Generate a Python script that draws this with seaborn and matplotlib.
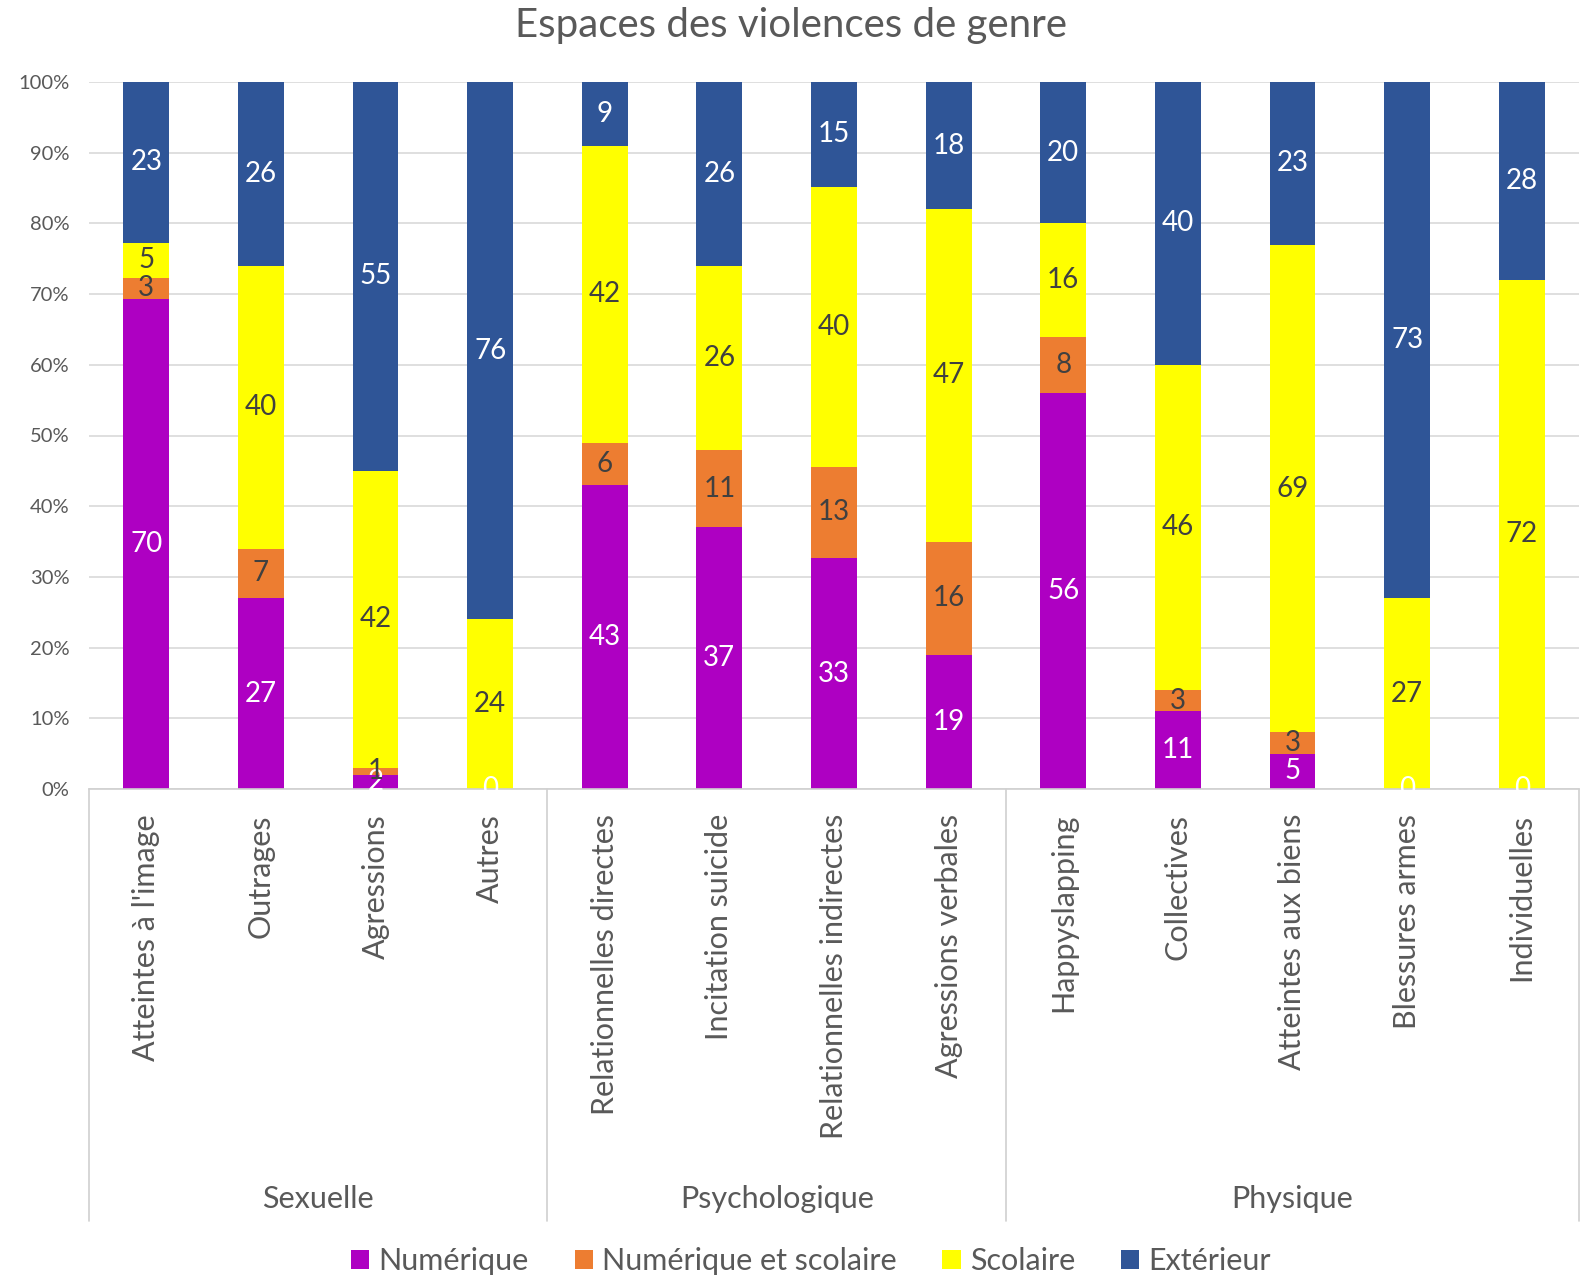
import matplotlib
matplotlib.use("Agg")
import matplotlib.pyplot as plt
import matplotlib.transforms as mtransforms
from matplotlib.patches import Patch
import seaborn as sns
import pandas as pd
import numpy as np

categories = ["Atteintes à l'image", "Outrages", "Agressions", "Autres",
              "Relationnelles directes", "Incitation suicide",
              "Relationnelles indirectes", "Agressions verbales",
              "Happyslapping", "Collectives", "Atteintes aux biens",
              "Blessures armes", "Individuelles"]
groups = ["Sexuelle", "Psychologique", "Physique"]
group_sizes = [4, 4, 5]

numerique = [70, 27, 2, 0, 43, 37, 33, 19, 56, 11, 5, 0, 0]
num_scolaire = [3, 7, 1, 0, 6, 11, 13, 16, 8, 3, 3, 0, 0]
scolaire = [5, 40, 42, 24, 42, 26, 40, 47, 16, 46, 69, 27, 72]
exterieur = [23, 26, 55, 76, 9, 26, 15, 18, 20, 40, 23, 73, 28]

series = ["Numérique", "Numérique et scolaire", "Scolaire", "Extérieur"]
colors = ["#AE00C2", "#ED7D31", "#FFFF00", "#2F5597"]
label_colors = ["white", "#404040", "#404040", "white"]

sns.set_theme(style="white")
plt.rcParams["font.family"] = ["Lato", "DejaVu Sans"]
text_color = "#595959"

df = pd.DataFrame({"cat": categories, series[0]: numerique, series[1]: num_scolaire,
                   series[2]: scolaire, series[3]: exterieur})
raw = df[series].astype(float)
pct = raw.div(raw.sum(axis=1), axis=0) * 100
cum = pct.cumsum(axis=1)

W, H = 1582, 1276
ax_left, ax_right, ax_top, ax_bottom = 89, 1579, 82, 789

fig = plt.figure(figsize=(W / 100, H / 100), dpi=100)
ax = fig.add_axes([ax_left / W, 1 - ax_bottom / H, (ax_right - ax_left) / W,
                   (ax_bottom - ax_top) / H])

# stacked layers drawn back to front as cumulative heights
for i in range(len(series) - 1, -1, -1):
    sns.barplot(x=df["cat"], y=cum[series[i]], order=categories, color=colors[i],
                width=0.4, saturation=1, linewidth=0, ax=ax, zorder=2)

# segment value labels
for j, cat in enumerate(categories):
    for i, s in enumerate(series):
        v = raw.loc[j, s]
        if v == 0 and i != 0:
            continue
        top = cum.loc[j, s]
        h = pct.loc[j, s]
        ax.text(j, top - h / 2, f"{int(v)}", ha="center", va="center",
                fontsize=20, color=label_colors[i], zorder=4)

ax.set_xlim(-0.5, len(categories) - 0.5)
ax.set_ylim(0, 100)
ax.set_yticks(np.arange(0, 101, 10))
ax.set_yticklabels([f"{t}%" for t in range(0, 101, 10)], fontsize=14.5, color=text_color)
ax.yaxis.grid(True, color="#D9D9D9", linewidth=1.2, zorder=0)
ax.set_axisbelow(True)
for side in ["top", "right", "left"]:
    ax.spines[side].set_visible(False)
ax.spines["bottom"].set_color("#D0D0D0")
ax.spines["bottom"].set_linewidth(1.2)
ax.tick_params(axis="y", length=0, pad=14)
ax.tick_params(axis="x", length=0, pad=18)
ax.set_xticks(range(len(categories)))
ax.set_xticklabels(categories, rotation=90, fontsize=22, color=text_color, va="top")
ax.set_xlabel("")
ax.set_ylabel("")

# group separators and group labels below the axis
trans = mtransforms.blended_transform_factory(ax.transData, ax.transAxes)
ax_h = ax_bottom - ax_top
y_low = -(1221 - ax_bottom) / ax_h
bounds = [-0.5]
for n in group_sizes:
    bounds.append(bounds[-1] + n)
for b in bounds:
    ax.plot([b, b], [0, y_low], transform=trans, color="#D0D0D0", lw=1.2, clip_on=False)
for g, (a, b) in zip(groups, zip(bounds[:-1], bounds[1:])):
    ax.text((a + b) / 2, -(1199 - ax_bottom) / ax_h, g, transform=trans,
            ha="center", va="center", fontsize=22, color=text_color)

fig.text(0.5, 1 - 26 / H, "Espaces des violences de genre", ha="center", va="center",
         fontsize=29, color=text_color)

handles = [Patch(facecolor=c, edgecolor="none") for c in colors]
fig.legend(handles, series, loc="center", bbox_to_anchor=(811 / W, 1 - 1261 / H), ncol=4,
           frameon=False, fontsize=22, handlelength=0.6, handleheight=0.6,
           handletextpad=0.3, columnspacing=1.5, labelcolor=text_color)

fig.savefig("out.png", dpi=100, facecolor="white")
